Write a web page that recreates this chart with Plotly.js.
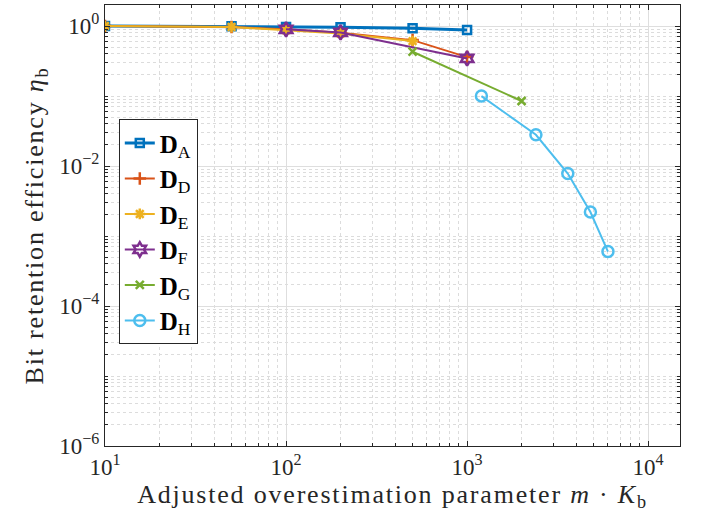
<!DOCTYPE html>
<html>
<head>
<meta charset="utf-8">
<script src="https://cdn.plot.ly/plotly-3.0.1.min.js"></script>
<style>
body{margin:0;background:#fff}
#chart{width:701px;height:516px}
#chart .xtitle, #chart .ytitle{letter-spacing:1.8px}
</style>
</head>
<body>
<div id="chart"></div>
<script>
// Data
const xA = [10, 50, 100, 200, 500, 1000];
const yA = [1.0, 0.99, 0.97, 0.96, 0.93, 0.88];
const xD = [10, 50, 100, 200, 500, 1000];
const yD = [1.0, 0.97, 0.9, 0.8, 0.63, 0.36];
const xE = [10, 50, 100, 200, 500];
const yE = [1.0, 0.97, 0.87, 0.78, 0.61];
const xF = [100, 200, 1000];
const yF = [0.9, 0.81, 0.345];
const xG = [500, 2000];
const yG = [0.43, 0.085];
const xH = [1200, 2400, 3600, 4800, 6000];
const yH = [0.1, 0.028, 0.0078, 0.0022, 0.0006];

const names = ['<b>D</b><sub>A</sub>', '<b>D</b><sub>D</sub>', '<b>D</b><sub>E</sub>',
               '<b>D</b><sub>F</sub>', '<b>D</b><sub>G</sub>', '<b>D</b><sub>H</sub>'];
const xTickVals = [10, 100, 1000, 10000];
const xTickText = ['10<sup>1</sup>', '10<sup>2</sup>', '10<sup>3</sup>', '10<sup>4</sup>'];
const yTickVals = [1e-6, 1e-4, 1e-2, 1];
const yTickText = ['10<sup>−6</sup>', '10<sup>−4</sup>', '10<sup>−2</sup>', '10<sup>0</sup>'];

const colors = ['#0072BD', '#D95319', '#EDB120', '#7E2F8E', '#77AC30', '#4DBEEE'];
const symbols = ['square-open', 'cross-thin-open', 'asterisk-open', 'hexagram-open', 'x-thin-open', 'circle-open'];
const xs = [xA, xD, xE, xF, xG, xH];
const ys = [yA, yD, yE, yF, yG, yH];
const lw = [3, 2, 2, 2, 2, 2];
const ms = [8, 9, 9, 11, 8, 11];

const traces = xs.map((x, i) => ({
  x: x, y: ys[i], name: names[i], type: 'scatter', mode: 'lines+markers',
  line: {color: colors[i], width: lw[i]},
  marker: {symbol: symbols[i], size: ms[i], color: colors[i], line: {color: colors[i], width: 2.5}}
}));

const font = 'Liberation Serif, Times New Roman, serif';
const layout = {
  width: 701, height: 516,
  margin: {l: 105, r: 21, t: 5, b: 70},
  paper_bgcolor: '#fff', plot_bgcolor: '#fff',
  font: {family: font, size: 23, color: '#262626'},
  showlegend: true,
  legend: {x: 0.024, y: 0.741, xanchor: 'left', yanchor: 'top',
           bgcolor: '#fff', bordercolor: '#262626', borderwidth: 1,
           font: {family: font, size: 25, color: '#000'}, tracegroupgap: 0},
  xaxis: {
    type: 'log', range: [1, Math.log10(15000)],
    tickvals: xTickVals, ticktext: xTickText,
    showline: true, mirror: 'ticks', linecolor: '#262626', linewidth: 1,
    ticks: 'inside', ticklen: 5, tickcolor: '#262626',
    showgrid: true, gridcolor: '#dedede', gridwidth: 1, zeroline: false,
    minor: {dtick: 'D1', showgrid: true, gridcolor: '#dcdcdc', griddash: 'dot', ticks: 'inside', ticklen: 3, tickcolor: '#262626'},
    title: {text: 'Adjusted overestimation parameter <i>m</i> · <i>K</i><sub>b</sub>', font: {family: font, size: 26, color: '#262626'}, standoff: 4}
  },
  yaxis: {
    type: 'log', range: [-6, Math.log10(2)],
    tickvals: yTickVals, ticktext: yTickText,
    showline: true, mirror: 'ticks', linecolor: '#262626', linewidth: 1,
    ticks: 'inside', ticklen: 5, tickcolor: '#262626',
    showgrid: true, gridcolor: '#dedede', gridwidth: 1, zeroline: false,
    minor: {dtick: 'D1', showgrid: true, gridcolor: '#dcdcdc', griddash: 'dot', ticks: 'inside', ticklen: 3, tickcolor: '#262626'},
    title: {text: 'Bit retention efficiency <i>η</i><sub>b</sub>', font: {family: font, size: 26, color: '#262626'}, standoff: 8}
  }
};

Plotly.newPlot('chart', traces, layout, {displayModeBar: false, staticPlot: true});
</script>
</body>
</html>
